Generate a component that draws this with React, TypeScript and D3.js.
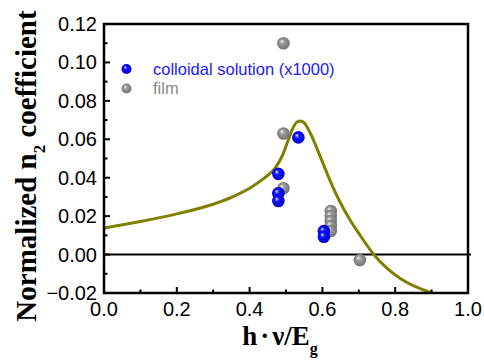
import { useRef, useEffect } from 'react'
import * as d3 from 'd3'

// data
const colloidX = [0.479, 0.479, 0.479, 0.534, 0.604, 0.604]
const colloidY = [0.042, 0.0319, 0.0279, 0.061, 0.0122, 0.0093]

const filmX = [0.493, 0.493, 0.493, 0.623, 0.623, 0.623, 0.623, 0.623, 0.703]
const filmY = [0.110, 0.063, 0.0345, 0.0227, 0.0201, 0.0175, 0.0149, 0.0123, -0.0028]

const fitX = [0, 0.1, 0.2, 0.3, 0.35, 0.4, 0.44, 0.47, 0.49, 0.505, 0.52, 0.53, 0.54, 0.55, 0.566, 0.593, 0.621, 0.648, 0.676, 0.703, 0.74, 0.777, 0.813, 0.859, 0.9]
const fitY = [0.0138, 0.0172, 0.0212, 0.0262, 0.0298, 0.0345, 0.0398, 0.045, 0.0515, 0.059, 0.0662, 0.069, 0.0695, 0.0685, 0.0635, 0.0515, 0.0385, 0.0275, 0.018, 0.0102, 0.0003, -0.0071, -0.0123, -0.017, -0.02]

const xTicks = [0, 0.2, 0.4, 0.6, 0.8, 1.0]
const yTicks = [-0.02, 0, 0.02, 0.04, 0.06, 0.08, 0.1, 0.12]

const W = 484
const H = 360

export default function App() {
  const svgRef = useRef<SVGSVGElement>(null)

  useEffect(() => {
    const el = svgRef.current
    if (!el) return
    const pad = { l: 104, r: 16, t: 24, b: 67 }
    const svg = d3.select(el)
    svg.selectAll('*').remove()

    const x = d3.scaleLinear().domain([0, 1]).range([pad.l, W - pad.r])
    const y = d3.scaleLinear().domain([-0.02, 0.12]).range([H - pad.b, pad.t])

    const defs = svg.append('defs')
    const grad = (id: string, hi: string, mid: string, dark: string) => {
      const g = defs.append('radialGradient').attr('id', id)
        .attr('cx', '0.5').attr('cy', '0.5').attr('r', '0.55')
        .attr('fx', '0.35').attr('fy', '0.32')
      g.append('stop').attr('offset', '0%').attr('stop-color', hi)
      g.append('stop').attr('offset', '35%').attr('stop-color', mid)
      g.append('stop').attr('offset', '100%').attr('stop-color', dark)
    }
    grad('gBlue', '#d8d8ff', '#1010ff', '#0000c8')
    grad('gGray', '#f0f0f0', '#9a9a9a', '#6e6e6e')

    defs.append('clipPath').attr('id', 'plotClip').append('rect')
      .attr('x', pad.l).attr('y', pad.t)
      .attr('width', W - pad.l - pad.r).attr('height', H - pad.t - pad.b)

    // zero line
    svg.append('line')
      .attr('x1', x(0)).attr('x2', x(1) + 3)
      .attr('y1', y(0)).attr('y2', y(0))
      .attr('stroke', '#000').attr('stroke-width', 2)

    // fit curve
    const line = d3.line<number>()
      .x((_, i) => x(fitX[i]))
      .y(d => y(d))
      .curve(d3.curveMonotoneX)
    svg.append('path')
      .attr('d', line(fitY))
      .attr('fill', 'none')
      .attr('stroke', '#808000')
      .attr('stroke-width', 3)
      .attr('clip-path', 'url(#plotClip)')

    // points
    svg.selectAll('.film')
      .data(filmY)
      .join('circle')
      .attr('cx', (_, i) => x(filmX[i]))
      .attr('cy', d => y(d))
      .attr('r', 6.3)
      .attr('fill', 'url(#gGray)')

    svg.selectAll('.colloid')
      .data(colloidY)
      .join('circle')
      .attr('cx', (_, i) => x(colloidX[i]))
      .attr('cy', d => y(d))
      .attr('r', 6.3)
      .attr('fill', 'url(#gBlue)')

    // frame
    svg.append('rect')
      .attr('x', pad.l).attr('y', pad.t)
      .attr('width', W - pad.l - pad.r).attr('height', H - pad.t - pad.b)
      .attr('fill', 'none').attr('stroke', '#000').attr('stroke-width', 2.5)

    // ticks
    const xMinor = d3.range(0, 1.0001, 0.1)
    svg.selectAll('.xt')
      .data(xMinor)
      .join('line')
      .attr('x1', d => x(d)).attr('x2', d => x(d))
      .attr('y1', H - pad.b)
      .attr('y2', (d, i) => H - pad.b - (i % 2 === 0 ? 6 : 3.5))
      .attr('stroke', '#000').attr('stroke-width', 2)

    const yMinor = d3.range(-0.02, 0.12001, 0.01)
    svg.selectAll('.yt')
      .data(yMinor)
      .join('line')
      .attr('y1', d => y(d)).attr('y2', d => y(d))
      .attr('x1', pad.l)
      .attr('x2', (d, i) => pad.l + (i % 2 === 0 ? 6 : 3.5))
      .attr('stroke', '#000').attr('stroke-width', 2)

    // tick labels
    svg.selectAll('.xl')
      .data(xTicks)
      .join('text')
      .attr('x', d => x(d))
      .attr('y', H - pad.b + 23)
      .attr('text-anchor', 'middle')
      .attr('font-family', 'Liberation Sans, Arial, sans-serif')
      .attr('font-size', 20)
      .text(d => d3.format('.1f')(d))

    svg.selectAll('.yl')
      .data(yTicks)
      .join('text')
      .attr('x', pad.l - 7)
      .attr('y', d => y(d) + 7)
      .attr('text-anchor', 'end')
      .attr('font-family', 'Liberation Sans, Arial, sans-serif')
      .attr('font-size', 20)
      .text(d => d3.format('.2f')(d))

    // axis titles
    const xt = svg.append('text')
      .attr('x', 280).attr('y', 345)
      .attr('text-anchor', 'middle')
      .attr('font-family', 'Liberation Serif, Times New Roman, serif')
      .attr('font-weight', 'bold')
      .attr('font-size', 27)
    xt.append('tspan').text('h')
    xt.append('tspan').attr('dx', 3).text('·')
    xt.append('tspan').attr('dx', 3).text('ν/E')
    xt.append('tspan').attr('font-size', 16).attr('dy', 9).text('g')

    const yt = svg.append('text')
      .attr('transform', 'translate(36,166) rotate(-90)')
      .attr('text-anchor', 'middle')
      .attr('font-family', 'Liberation Serif, Times New Roman, serif')
      .attr('font-weight', 'bold')
      .attr('font-size', 29)
    yt.append('tspan').text('Normalized n')
    yt.append('tspan').attr('font-size', 17).attr('dy', 9).text('2')
    yt.append('tspan').attr('dy', -9).text(' coefficient')

    // legend
    const legend = [
      { label: 'colloidal solution (x1000)', fill: 'url(#gBlue)', color: '#1a1aff', cy: 69 },
      { label: 'film', fill: 'url(#gGray)', color: '#8a8a8a', cy: 88.5 },
    ]
    const lg = svg.selectAll('.lg').data(legend).join('g')
    lg.append('circle')
      .attr('cx', 126.5).attr('cy', d => d.cy).attr('r', 5)
      .attr('fill', d => d.fill)
    lg.append('text')
      .attr('x', 153).attr('y', d => d.cy + 5.5)
      .attr('font-family', 'Liberation Sans, Arial, sans-serif')
      .attr('font-size', 16.5)
      .attr('fill', d => d.color)
      .text(d => d.label)
  }, [])

  return (
    <svg ref={svgRef} width={W} height={H}
      style={{ position: 'absolute', left: 0, top: 0, background: '#fff' }} />
  )
}
